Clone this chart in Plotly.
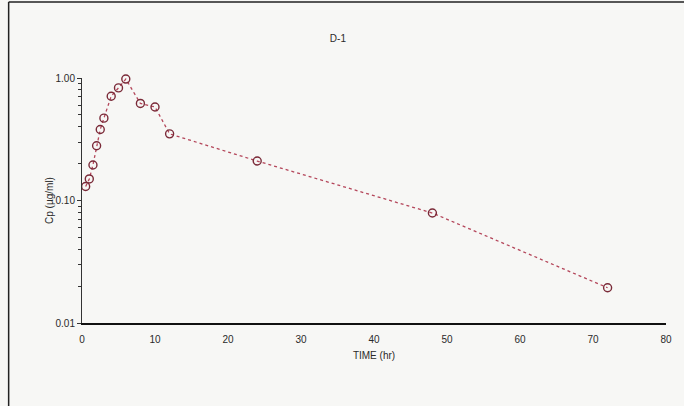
import plotly.graph_objects as go

# Plasma concentration-time profile, subject D-1
time_hr = [0.5, 1, 1.5, 2, 2.5, 3, 4, 5, 6, 8, 10, 12, 24, 48, 72]
conc_ug_ml = [0.13, 0.15, 0.195, 0.28, 0.38, 0.47, 0.71, 0.83, 0.98,
              0.62, 0.58, 0.35, 0.21, 0.079, 0.0194]

x_ticks = [0, 10, 20, 30, 40, 50, 60, 70, 80]
y_tickvals = [0.01, 0.1, 1.0]
y_ticktext = ["0.01", "0.10", "1.00"]
y_minor = [m * d for d in (0.01, 0.1) for m in range(2, 10)]

bg = "#f7f7f5"
ink = "#2a2a2a"
font = dict(family="Liberation Sans, Arial, sans-serif", size=10, color=ink)

fig = go.Figure()
fig.add_trace(go.Scatter(
    x=time_hr, y=conc_ug_ml, mode="lines+markers",
    line=dict(color="#b4465a", width=1.3, dash="dot"),
    marker=dict(symbol="circle-open", size=8, color="#7a2a38",
                line=dict(width=1.4, color="#7a2a38")),
    cliponaxis=False,
    showlegend=False,
))

fig.update_layout(
    width=684, height=406,
    margin=dict(l=82, r=13, t=78, b=83),
    paper_bgcolor=bg, plot_bgcolor=bg,
    font=font,
    title=dict(text="D-1", x=0.494, xanchor="center", y=0.905, yanchor="middle",
               font=dict(size=10, color=ink)),
    xaxis=dict(
        range=[0, 80], tickvals=x_ticks, showgrid=False, zeroline=False,
        showline=True, linecolor="#111", linewidth=1.6,
        ticks="", ticklabelstandoff=6,
        title=dict(text="TIME (hr)", standoff=8, font=dict(size=10)),
    ),
    yaxis=dict(
        type="log", range=[-2, 0], tickvals=y_tickvals, ticktext=y_ticktext,
        showgrid=False, zeroline=False,
        showline=True, linecolor="#333", linewidth=1,
        ticks="outside", ticklen=4, tickcolor="#333",
        minor=dict(tickvals=y_minor, ticks="outside", ticklen=3, tickcolor="#333"),
        title=dict(text="Cp (µg/ml)", standoff=0, font=dict(size=10)),
    ),
    shapes=[
        # scan frame: left and top edges
        dict(type="line", xref="paper", yref="paper",
             x0=-0.1256, x1=-0.1256, y0=-0.34, y1=1.31,
             line=dict(color="#222", width=1.5)),
        dict(type="line", xref="paper", yref="paper",
             x0=-0.1256, x1=1.06, y0=1.31, y1=1.31,
             line=dict(color="#222", width=1.5)),
    ],
)

fig.write_html("out.html")
